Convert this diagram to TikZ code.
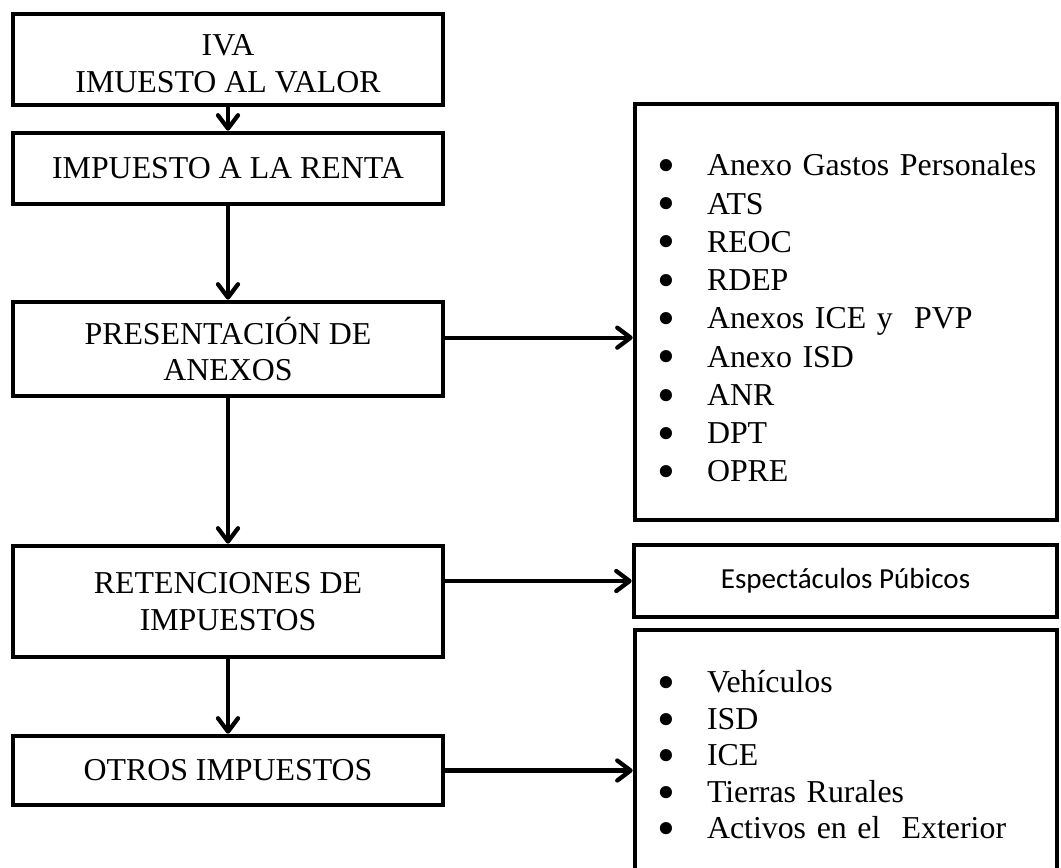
\documentclass[tikz,border=0pt]{standalone}
\usepackage{graphicx}
\usepackage{fontspec}
\setmainfont{Liberation Serif}
\newfontfamily\calib{Carlito}
\usetikzlibrary{arrows.meta}
\newcommand\bulitem[1]{\mbox{\makebox[37.5pt][l]{\raisebox{-5pt}[0pt][0pt]{\scalebox{1.6}{\textbullet}}}#1}}
\begin{document}
\begin{tikzpicture}[x=0.75pt,y=-0.75pt,
  box/.style={draw,line width=3.4pt,rectangle,align=center,inner sep=0pt,
    font=\fontsize{23.9}{28}\selectfont},
  leftbox/.style={box,minimum width=322.5pt},
  listbox/.style={box,minimum width=316.5pt,align=left,text width=283.5pt},
  arr/.style={line width=3.2pt,-{Straight Barb[length=10pt,width=15pt,round]}}]
\useasboundingbox (0,0) rectangle (1061,868);
\clip (0,0) rectangle (1061,868);

% left column
\node[leftbox,minimum height=68.25pt,font=\fontsize{23.9}{28}\selectfont] (b1) at (228,59.5)
  {\rule{0pt}{21.8pt}IVA\\IMUESTO AL VALOR};
\node[leftbox,minimum height=53.25pt] (b2) at (228,168.5) {IMPUESTO A LA RENTA};
\node[leftbox,minimum height=70.5pt,font=\fontsize{23.9}{27.5}\selectfont] (b3) at (228,349)
  {PRESENTACIÓN DE\\ANEXOS};
\node[leftbox,minimum height=83.25pt,font=\fontsize{23.9}{28}\selectfont] (b4) at (228,601.5)
  {RETENCIONES DE\\IMPUESTOS};
\node[leftbox,minimum height=51.75pt] (b5) at (228,770.5) {OTROS IMPUESTOS};

% right column
\node[listbox,minimum height=312pt,font=\fontsize{23.9}{28.7}\selectfont] (big) at (846,312)
  {\rule{0pt}{25.5pt}\bulitem{Anexo Gastos Personales}\\
   \bulitem{ATS}\\
   \bulitem{REOC}\\
   \bulitem{RDEP}\\
   \bulitem{Anexos ICE y~~PVP}\\
   \bulitem{Anexo ISD}\\
   \bulitem{ANR}\\
   \bulitem{DPT}\\
   \bulitem{OPRE}};
\node[box,minimum width=317.25pt,minimum height=54pt,font=\calib\fontsize{21.8}{26}\selectfont] (esp) at (845.5,581)
  {Espectáculos Púbicos};
\node[listbox,minimum height=187.5pt,font=\fontsize{23.9}{27.4}\selectfont] (bot) at (846,755)
  {\bulitem{Vehículos}\\
   \bulitem{ISD}\\
   \bulitem{ICE}\\
   \bulitem{Tierras Rurales}\\
   \bulitem{Activos en el~~Exterior}};

% connectors
\draw[arr] (b1.south) -- (b2.north);
\draw[arr] (b2.south) -- (b3.north);
\draw[arr] (b3.south) -- (b4.north);
\draw[arr] (b4.south) -- (b5.north);
\path ([yshift=8.5pt]b3.east) coordinate (s3);
\draw[arr] (s3) -- (s3 -| big.west);
\draw[arr] (esp.west -| b4.east) -- (esp.west);
\draw[arr] (b5.east) -- (b5.east -| bot.west);
\end{tikzpicture}
\end{document}
